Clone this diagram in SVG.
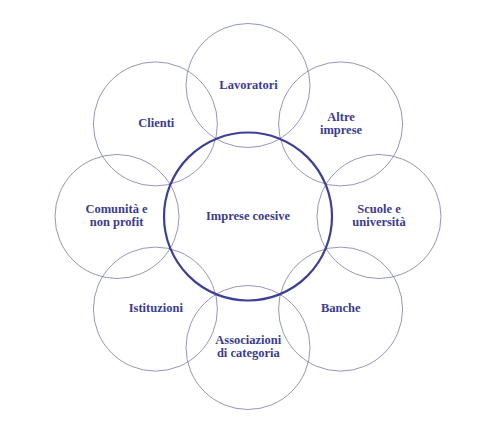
<svg xmlns="http://www.w3.org/2000/svg" width="496" height="432" viewBox="0 0 496 432">
<style>
.o{fill:none;stroke:#7a7bab;stroke-width:0.8}
.c{fill:none;stroke:#3d4196;stroke-width:2.2}
text{font-family:"Liberation Serif","Times New Roman",serif;font-weight:bold;font-size:12.5px;fill:#3b3d8c;text-anchor:middle}
</style>
<rect width="496" height="432" fill="#ffffff"/>
<g id="lavoratori"><circle class="o" cx="248" cy="85.5" r="62"/><text x="248.5" y="89">Lavoratori</text></g>
<g id="altre-imprese"><circle class="o" cx="340.6" cy="123.9" r="62"/><text x="341" y="120.5">Altre</text><text x="341" y="133.5">imprese</text></g>
<g id="scuole"><circle class="o" cx="379" cy="216.5" r="62"/><text x="379" y="213">Scuole e</text><text x="379" y="226">università</text></g>
<g id="banche"><circle class="o" cx="340.6" cy="309.1" r="62"/><text x="340.7" y="312.3">Banche</text></g>
<g id="associazioni"><circle class="o" cx="248" cy="347.5" r="62"/><text x="248.3" y="343.5">Associazioni</text><text x="248.3" y="356.5">di categoria</text></g>
<g id="istituzioni"><circle class="o" cx="155.4" cy="309.1" r="62"/><text x="155.8" y="312.3">Istituzioni</text></g>
<g id="comunita"><circle class="o" cx="117" cy="216.5" r="62"/><text x="116.5" y="213">Comunità e</text><text x="116.5" y="226">non profit</text></g>
<g id="clienti"><circle class="o" cx="155.4" cy="123.9" r="62"/><text x="156.3" y="127.3">Clienti</text></g>
<g id="imprese-coesive"><circle class="c" cx="248" cy="216.5" r="84"/><text x="248" y="220">Imprese coesive</text></g>
</svg>
